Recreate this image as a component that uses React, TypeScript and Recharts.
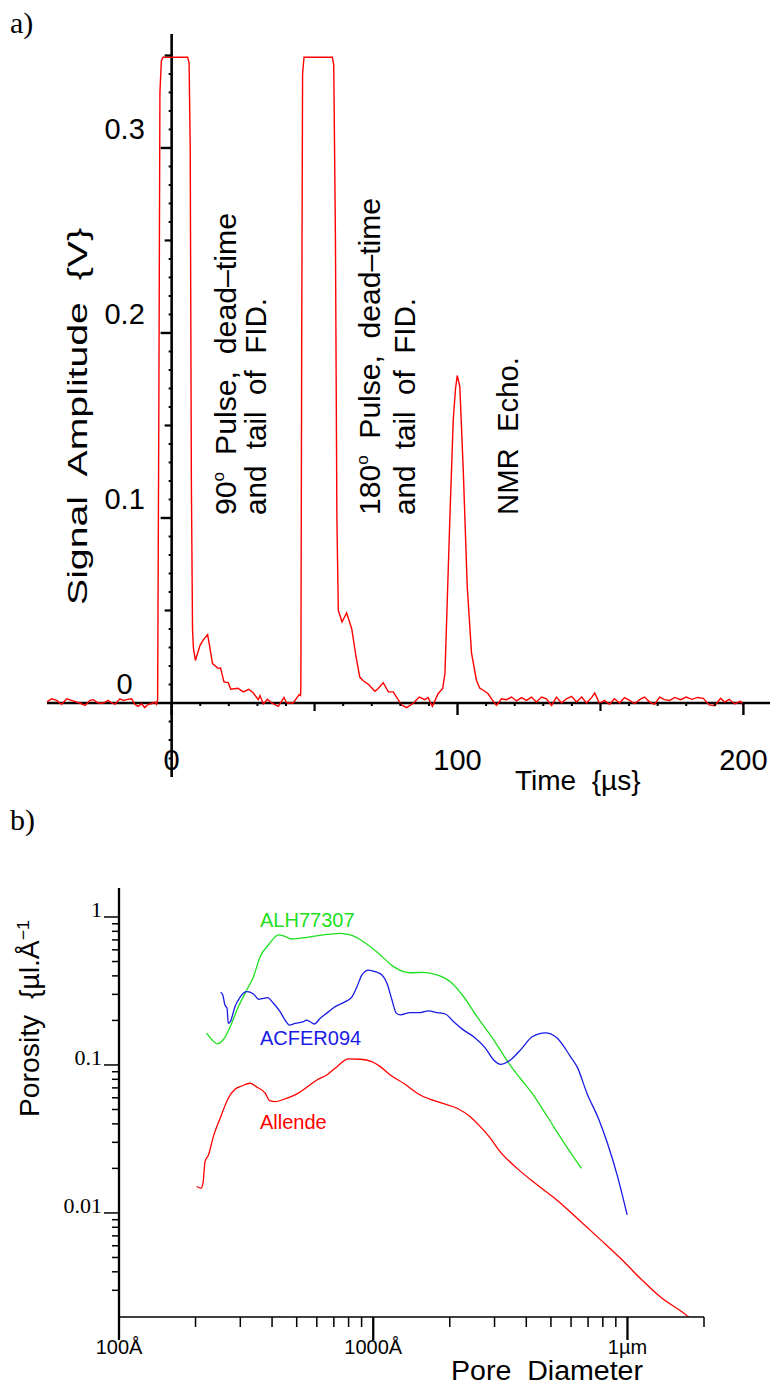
import React from 'react';
import { LineChart, Line, XAxis, YAxis, ReferenceLine, ReferenceDot } from 'recharts';

const SANS = '"Liberation Sans", Arial, Helvetica, sans-serif';
const SERIF = '"Liberation Serif", "Times New Roman", serif';

// ---------- a) spin-echo trace ----------
const timeDomain = [-43.6, 209.3];
const ampDomain = [-0.04, 0.3616];

const timeUs = [
  -43.7, -42.0, -40.2, -38.5, -36.7, -35.0, -33.2, -32.1, -30.3, -28.6,
  -27.4, -25.7, -23.9, -22.2, -21.0, -19.8, -18.1, -16.9, -15.8, -14.0,
  -12.9, -11.7, -10.5, -9.4, -8.2, -7.1, -5.9, -5.3, -4.9, -4.5,
  -4.1, -3.6, -3.0, 5.6, 6.1, 6.5, 6.9, 7.3, 7.6, 8.3,
  9.9, 11.0, 12.6, 14.3, 16.3, 17.1, 18.3, 19.8, 20.7, 23.2,
  25.0, 27.0, 28.5, 30.3, 30.9, 32.1, 33.5, 35.0, 37.3, 39.3,
  40.2, 42.5, 44.6, 45.1, 45.2, 45.5, 45.8, 46.3, 56.2, 56.7,
  57.3, 57.8, 58.3, 59.6, 61.2, 63.0, 64.5, 65.8, 67.0, 68.9,
  71.1, 72.2, 74.0, 75.8, 77.5, 80.4, 82.2, 84.6, 86.6, 88.6,
  89.7, 91.2, 93.2, 94.8, 95.6, 96.2, 97.3, 98.5, 99.3, 99.9,
  100.8, 102.0, 103.4, 104.9, 106.6, 107.8, 109.0, 110.7, 112.0, 113.6,
  115.4, 117.1, 118.9, 120.6, 122.4, 124.1, 125.9, 127.6, 129.4, 131.1,
  132.9, 134.6, 136.4, 138.1, 139.9, 141.6, 143.4, 145.1, 146.9, 148.0,
  149.7, 151.4, 153.2, 154.9, 156.7, 158.4, 160.2, 161.9, 163.7, 165.4,
  167.2, 168.9, 170.7, 172.4, 174.2, 176.0, 178.0, 180.0, 182.0, 184.0,
  186.0, 188.0, 190.0, 192.0, 193.5, 195.0, 197.0, 199.0, 200.0,
];
const signalV = [
  0.0005, 0.0023, 0.0014, -0.0007, 0.0023, 0.0014, 0.0005, 0, -0.0013, 0.0014,
  0.0018, 0, 0, 0.0014, 0, -0.0007, 0.0023, 0.0014, 0.0018, 0.0023,
  -0.0007, -0.0018, -0.0004, -0.0025, -0.0007, -0.0004, 0.0005, -0.0007, 0.002, 0.15,
  0.33, 0.347, 0.349, 0.349, 0.346, 0.3, 0.12, 0.04, 0.03, 0.023,
  0.031, 0.034, 0.037, 0.0213, 0.0186, 0.019, 0.0114, 0.011, 0.0074, 0.008,
  0.006, 0.0074, 0.0055, 0.0018, 0.004, -0.0005, 0.002, 0, -0.0018, 0.003,
  0, 0, 0.0045, 0.004, 0.01, 0.2, 0.34, 0.349, 0.349, 0.345,
  0.25, 0.1, 0.05, 0.0438, 0.0487, 0.04, 0.025, 0.014, 0.012, 0.01,
  0.0063, 0.0077, 0.011, 0.006, 0.006, -0.001, -0.0025, 0, 0.0032, 0.0018,
  0.003, -0.0018, 0.005, 0.0078, 0.016, 0.045, 0.099, 0.153, 0.17, 0.177,
  0.171, 0.126, 0.063, 0.027, 0.0123, 0.008, 0.0069, 0.005, 0.002, -0.0013,
  0.0023, 0.0018, 0.0032, 0.0011, 0.0029, 0.0014, 0.0032, 0.0005, 0.0032, 0.0023,
  -0.0013, 0.0032, 0, 0.0023, 0.0036, 0.0005, 0.0032, 0, 0.0029, 0.0054,
  -0.0004, 0.0014, -0.0007, 0.0023, 0, 0.0029, 0.0014, -0.0004, 0.0018, 0.0032,
  0.0005, -0.0007, 0.0032, 0.0018, 0.0014, 0.003, 0.0018, 0.0032, 0.002, 0.003,
  0.0025, -0.001, -0.0015, 0.0025, 0.0005, 0.002, -0.0005, 0.001, -0.0015,
];

const timeLabels = ['0', '100', '200'];
const timeMajor = [0, 100, 200];
const timeHalf = [50, 150];
const timeMinor = [10, 20, 30, 40, 60, 70, 80, 90, 110, 120, 130, 140, 160, 170, 180, 190];
const ampLabels = ['0', '0.1', '0.2', '0.3'];
const ampLabelAt = [0, 0.1, 0.2, 0.3];
const ampMajor = [0.1, 0.2, 0.3];
const ampHalf = [0.05, 0.15, 0.25, 0.35];
const ampMinor = [
  -0.03, -0.02, -0.01, 0.01, 0.02, 0.03, 0.04, 0.06, 0.07, 0.08, 0.09, 0.11, 0.12, 0.13, 0.14,
  0.16, 0.17, 0.18, 0.19, 0.21, 0.22, 0.23, 0.24, 0.26, 0.27, 0.28, 0.29, 0.31, 0.32, 0.33, 0.34,
];

// ---------- b) pore size distributions ----------
const alhDiameter = [
  221, 232, 244, 257, 274, 295, 318, 338, 359, 387, 424, 444, 479, 548, 637, 742, 812,
  916, 1066, 1202, 1399, 1578, 1781, 2010, 2268, 2560, 2976, 3410, 3792, 4254, 4830, 5614, 6590,
];
const alhPorosity = [
  0.164, 0.148, 0.139, 0.148, 0.182, 0.248, 0.321, 0.395, 0.539, 0.647, 0.756, 0.744, 0.71, 0.729,
  0.756, 0.776, 0.756, 0.681, 0.554, 0.462, 0.42, 0.423, 0.406, 0.365, 0.289, 0.212, 0.148, 0.103,
  0.081, 0.063, 0.045, 0.03, 0.02,
];
const acferDiameter = [
  251, 256, 261, 266, 269, 274, 286, 300, 318, 338, 354, 370, 384, 405, 430, 450, 468, 493, 532, 545,
  565, 586, 619, 657, 709, 764, 825, 863, 903, 958, 1018, 1082, 1132, 1185, 1232, 1278, 1399, 1531,
  1651, 1781, 1920, 2071, 2268, 2483, 2760, 2976, 3162, 3463, 3849, 4216, 4756, 5287, 5965, 6339,
  6938, 7709, 8318, 9109, 9972,
];
const acferPorosity = [
  0.31, 0.297, 0.254, 0.242, 0.191, 0.196, 0.248, 0.289, 0.313, 0.302, 0.278, 0.282, 0.285, 0.261,
  0.229, 0.201, 0.186, 0.191, 0.196, 0.201, 0.196, 0.189, 0.207, 0.224, 0.248, 0.264, 0.289, 0.338,
  0.406, 0.438, 0.427, 0.406, 0.357, 0.275, 0.224, 0.218, 0.226, 0.226, 0.232, 0.226, 0.221, 0.196,
  0.172, 0.155, 0.13, 0.108, 0.101, 0.108, 0.13, 0.155, 0.165, 0.152, 0.114, 0.097, 0.064, 0.043,
  0.03, 0.018, 0.0097,
];
const allendeDiameter = [
  202, 210, 214, 218, 225, 235, 250, 269, 286, 304, 328, 349, 376, 391, 411, 457, 501, 548, 600, 657,
  720, 799, 889, 988, 1066, 1167, 1316, 1531, 1836, 2136, 2409, 2637, 2888, 3113, 3679, 4411, 5287,
  6339, 7830, 9670, 11250, 13490, 16660, 18700,
];
const allendePorosity = [
  0.0151, 0.0147, 0.0159, 0.0222, 0.0247, 0.0328, 0.0436, 0.0596, 0.0685, 0.0721, 0.0752, 0.0707,
  0.0644, 0.0574, 0.0565, 0.0596, 0.0637, 0.0707, 0.0792, 0.0856, 0.0974, 0.1098, 0.1093, 0.1053,
  0.0974, 0.0856, 0.0752, 0.0627, 0.0556, 0.051, 0.0447, 0.0383, 0.032, 0.0267, 0.02, 0.0155, 0.0122,
  0.0092, 0.0066, 0.0047, 0.0036, 0.0027, 0.0021, 0.0018,
];

const diamDomain = [100, 20000];
const poroDomain = [0.00198, 1.57];
const diamTicks = [
  100, 200, 300, 400, 500, 600, 700, 800, 900, 1000, 2000, 3000, 4000, 5000, 6000, 7000, 8000, 9000,
  10000, 20000,
];
const diamLabels: Record<string, string> = { '100': '100Å', '1000': '1000Å', '10000': '1µm' };
const poroTicks = [
  0.003, 0.004, 0.005, 0.006, 0.007, 0.008, 0.009, 0.01, 0.02, 0.03, 0.04, 0.05, 0.06, 0.07, 0.08,
  0.09, 0.1, 0.2, 0.3, 0.4, 0.5, 0.6, 0.7, 0.8, 0.9, 1,
];
const poroLabels: Record<string, string> = { '0.01': '0.01', '0.1': '0.1', '1': '1' };

const zip = (xs: number[], ys: number[], kx: string, ky: string) =>
  xs.map((x, i) => ({ [kx]: x, [ky]: ys[i] }));

// tick marks hung on ReferenceDots so they sit on the zero lines
const downTick = (len: number, w: number) => (p: any) => (
  <line x1={p.cx} y1={p.cy} x2={p.cx} y2={p.cy + len} stroke="#000" strokeWidth={w} />
);
const leftTick = (len: number, w: number) => (p: any) => (
  <line x1={p.cx - len} y1={p.cy} x2={p.cx} y2={p.cy} stroke="#000" strokeWidth={w} />
);
const timeText = (s: string) => (p: any) => (
  <text x={p.cx} y={p.cy + 67} textAnchor="middle" fontSize={29} fontFamily={SANS} fill="#000">
    {s}
  </text>
);
const ampText = (s: string) => (p: any) => (
  <text x={p.cx - 47} y={p.cy - 9} textAnchor="middle" fontSize={29} fontFamily={SANS} fill="#000">
    {s}
  </text>
);

function DiamTick(props: any) {
  const { x, y, payload } = props;
  const label = diamLabels[String(payload.value)];
  return (
    <g>
      <line x1={x} y1={y} x2={x} y2={y + (label ? 23 : 10)} stroke="#000" strokeWidth={label ? 2.3 : 1.5} />
      {label && (
        <text x={x} y={y + 37} textAnchor="middle" fontSize={20} fontFamily={SANS} fill="#000">
          {label}
        </text>
      )}
    </g>
  );
}

function PoroTick(props: any) {
  const { x, y, payload } = props;
  const label = poroLabels[String(payload.value)];
  return (
    <g>
      <line x1={x - (label ? 15 : 7)} y1={y} x2={x} y2={y} stroke="#000" strokeWidth={1.5} />
      {label && (
        <text x={x - 17} y={y} textAnchor="end" fontSize={22} fontFamily={SERIF} fill="#000">
          {label}
        </text>
      )}
    </g>
  );
}

function VText({ x, y, len, size = 30, children }: any) {
  return (
    <text
      transform={`translate(${x},${y}) rotate(-90)`}
      fontSize={size}
      fontFamily={SANS}
      textLength={len}
      lengthAdjust="spacingAndGlyphs"
      style={{ whiteSpace: 'pre' }}
      fill="#000"
    >
      {children}
    </text>
  );
}

function EchoPanel() {
  const data = zip(timeUs, signalV, 't', 'v');
  return (
    <LineChart width={771} height={800} data={data} margin={{ top: 34, right: 1, bottom: 23, left: 47 }}>
      <XAxis dataKey="t" type="number" domain={timeDomain} allowDataOverflow hide />
      <YAxis type="number" domain={ampDomain} allowDataOverflow hide />
      <ReferenceLine
        segment={[{ x: timeDomain[0], y: 0 }, { x: timeDomain[1], y: 0 }]}
        stroke="#000"
        strokeWidth={2.6}
        ifOverflow="visible"
      />
      <ReferenceLine
        segment={[{ x: 0, y: ampDomain[0] }, { x: 0, y: ampDomain[1] }]}
        stroke="#000"
        strokeWidth={2.6}
        ifOverflow="visible"
      />
      {timeMajor.map((t) => (
        <ReferenceDot key={'tm' + t} x={t} y={0} shape={downTick(12, 2.4)} ifOverflow="visible" />
      ))}
      {timeMajor.map((t, i) => (
        <ReferenceDot key={'tl' + t} x={t} y={0} shape={timeText(timeLabels[i])} ifOverflow="visible" />
      ))}
      {timeHalf.map((t) => (
        <ReferenceDot key={'th' + t} x={t} y={0} shape={downTick(8, 2.2)} ifOverflow="visible" />
      ))}
      {timeMinor.map((t) => (
        <ReferenceDot key={'tn' + t} x={t} y={0} shape={downTick(3, 2)} ifOverflow="visible" />
      ))}
      {ampMajor.map((v) => (
        <ReferenceDot key={'am' + v} x={0} y={v} shape={leftTick(11, 2.4)} ifOverflow="visible" />
      ))}
      {ampHalf.map((v) => (
        <ReferenceDot key={'ah' + v} x={0} y={v} shape={leftTick(7, 2.2)} ifOverflow="visible" />
      ))}
      {ampMinor.map((v) => (
        <ReferenceDot key={'an' + v} x={0} y={v} shape={leftTick(3, 2)} ifOverflow="visible" />
      ))}
      {ampLabelAt.map((v, i) => (
        <ReferenceDot key={'al' + v} x={0} y={v} shape={ampText(ampLabels[i])} ifOverflow="visible" />
      ))}
      <Line
        dataKey="v"
        type="linear"
        stroke="#ff0000"
        strokeWidth={1.4}
        dot={false}
        isAnimationActive={false}
      />
    </LineChart>
  );
}

function PorePanel() {
  return (
    <LineChart width={771} height={547} margin={{ top: 48, right: 67, bottom: 0, left: 0 }}>
      <XAxis
        dataKey="d"
        type="number"
        scale="log"
        domain={diamDomain}
        allowDataOverflow
        ticks={diamTicks}
        interval={0}
        tickSize={0}
        tickMargin={0}
        tickLine={false}
        tick={<DiamTick />}
        height={70}
        axisLine={{ stroke: '#000', strokeWidth: 1.6 }}
      />
      <YAxis
        type="number"
        scale="log"
        domain={poroDomain}
        allowDataOverflow
        ticks={poroTicks}
        interval={0}
        tickSize={0}
        tickMargin={0}
        tickLine={false}
        tick={<PoroTick />}
        width={119}
        axisLine={{ stroke: '#000', strokeWidth: 2.3 }}
      />
      <Line
        data={zip(alhDiameter, alhPorosity, 'd', 'p')}
        dataKey="p"
        type="monotone"
        stroke="#1ee01e"
        strokeWidth={1.3}
        dot={false}
        isAnimationActive={false}
      />
      <Line
        data={zip(acferDiameter, acferPorosity, 'd', 'p')}
        dataKey="p"
        type="monotone"
        stroke="#1a1ae6"
        strokeWidth={1.3}
        dot={false}
        isAnimationActive={false}
      />
      <Line
        data={zip(allendeDiameter, allendePorosity, 'd', 'p')}
        dataKey="p"
        type="monotone"
        stroke="#ff0000"
        strokeWidth={1.3}
        dot={false}
        isAnimationActive={false}
      />
    </LineChart>
  );
}

export default function App() {
  return (
    <div style={{ position: 'absolute', left: 0, top: 0, width: 771, height: 1387, background: '#fff' }}>
      <div style={{ position: 'absolute', left: 0, top: 0 }}>
        <EchoPanel />
      </div>
      <div style={{ position: 'absolute', left: 0, top: 840 }}>
        <PorePanel />
      </div>
      <svg
        width={771}
        height={1387}
        style={{ position: 'absolute', left: 0, top: 0, pointerEvents: 'none' }}
      >
        <text x={10} y={33} fontSize={30} fontFamily={SERIF} fill="#000">a)</text>
        <text x={10} y={830} fontSize={30} fontFamily={SERIF} fill="#000">b)</text>

        <VText x={87} y={605} len={377} size={27}>Signal  Amplitude  {'{V}'}</VText>
        <VText x={236} y={515} len={302}>
          90<tspan dy={-12} fontSize={17}>o</tspan>
          <tspan dy={12}>  Pulse,  dead–time</tspan>
        </VText>
        <VText x={266} y={515} len={217}>and  tail  of  FID.</VText>
        <VText x={380} y={515} len={317}>
          180<tspan dy={-12} fontSize={17}>o</tspan>
          <tspan dy={12}>  Pulse,  dead–time</tspan>
        </VText>
        <VText x={415} y={515} len={217}>and  tail  of  FID.</VText>
        <VText x={518} y={515} len={158}>NMR  Echo.</VText>
        <text x={515} y={790} fontSize={28} fontFamily={SANS} fill="#000" style={{ whiteSpace: 'pre' }}>
          Time  {'{µs}'}
        </text>

        <VText x={39} y={1117} len={197} size={27}>
          Porosity  {'{µl.Å'}
          <tspan dy={-10} fontSize={17}>−1</tspan>
        </VText>
        <text
          x={451}
          y={1380}
          fontSize={27}
          fontFamily={SANS}
          fill="#000"
          textLength={192}
          lengthAdjust="spacingAndGlyphs"
          style={{ whiteSpace: 'pre' }}
        >
          Pore  Diameter
        </text>
        <text x={260} y={927} fontSize={20} fontFamily={SANS} fill="#1ee01e">ALH77307</text>
        <text x={260} y={1045} fontSize={20} fontFamily={SANS} fill="#1a1ae6">ACFER094</text>
        <text x={260} y={1129} fontSize={20} fontFamily={SANS} fill="#ff0000">Allende</text>
      </svg>
    </div>
  );
}
